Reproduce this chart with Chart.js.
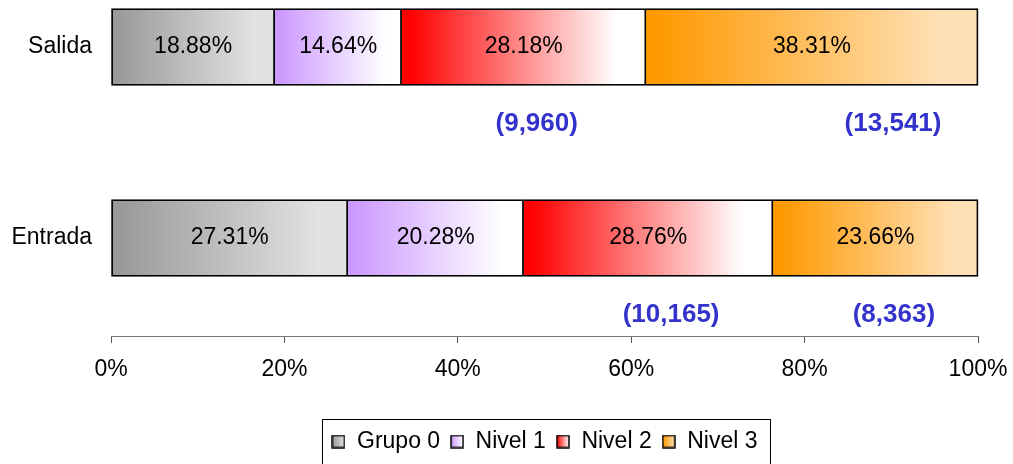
<!DOCTYPE html>
<html>
<head>
<meta charset="utf-8">
<script src="https://cdn.jsdelivr.net/npm/chart.js@4.4.1/dist/chart.umd.min.js"></script>
<style>
  html, body { margin: 0; padding: 0; background: #fff; }
  #wrap { width: 1013px; height: 464px; }
</style>
</head>
<body>
<div id="wrap"><canvas id="chart"></canvas></div>
<script>
// Data
const categories = ['Salida', 'Entrada'];
const seriesNames = ['Grupo 0', 'Nivel 1', 'Nivel 2', 'Nivel 3'];
const grupo0 = [18.88, 27.31];
const nivel1 = [14.64, 20.28];
const nivel2 = [28.18, 28.76];
const nivel3 = [38.31, 23.66];
const xTicks = [0, 20, 40, 60, 80, 100];
// counts written under the Nivel 2 and Nivel 3 segments
const countsNivel2 = ['(9,960)', '(10,165)'];
const countsNivel3 = ['(13,541)', '(8,363)'];

const values = [grupo0, nivel1, nivel2, nivel3];

// Styles / layout
const FONT = '"Liberation Sans", Arial, sans-serif';
const shades = [
  ['#999999', '#e2e2e2'],
  ['#cc99ff', '#ffffff'],
  ['#ff0000', '#ffffff'],
  ['#ff9900', '#ffe0b4']
];
// where the count labels sit along the x axis (in % units)
const countAt = { 2: [49.1, 64.6], 3: [90.2, 90.3] };
const countOffsetY = 77;

function segFill(ds) {
  return function (ctx) {
    const chart = ctx.chart;
    const [dark, light] = shades[ds];
    if (!chart.chartArea || ctx.type !== 'data') return dark;
    const x = chart.scales.x;
    let start = 0;
    for (let k = 0; k < ds; k++) start += values[k][ctx.dataIndex];
    const end = start + values[ds][ctx.dataIndex];
    const x0 = x.getPixelForValue(start);
    const x1 = x.getPixelForValue(end);
    const g = chart.ctx.createLinearGradient(x0, 0, x1, 0);
    g.addColorStop(0, dark);
    g.addColorStop(0.03, dark);
    g.addColorStop(0.88, light);
    g.addColorStop(1, light);
    return g;
  };
}

function legendSwatch(i) {
  const c = document.createElement('canvas');
  c.width = 14;
  c.height = 14;
  const g = c.getContext('2d');
  const gr = g.createLinearGradient(1, 0, 13, 0);
  gr.addColorStop(0, shades[i][0]);
  gr.addColorStop(1, shades[i][1]);
  g.fillStyle = gr;
  g.fillRect(1, 1, 12, 12);
  g.strokeStyle = '#000';
  g.lineWidth = 1.5;
  g.strokeRect(1, 1, 12, 12);
  return c;
}

const datasets = values.map((arr, i) => ({
  label: seriesNames[i],
  data: arr.map((v, j) => ({ x: v, y: j })),
  backgroundColor: segFill(i),
  borderColor: '#000',
  borderWidth: 1.8,
  borderSkipped: i === 0 ? false : 'left',
  barThickness: 77,
  clip: false
}));

// Percent labels inside bars, counts below, legend frame
const barText = {
  id: 'barText',
  afterLayout(chart) {
    const lg = chart.legend;
    const shift = (chart.chartArea.left + chart.chartArea.right) / 2 - (lg.left + lg.right) / 2;
    lg.left += shift;
    lg.right += shift;
  },
  afterDatasetsDraw(chart) {
    const ctx = chart.ctx;
    const x = chart.scales.x;
    ctx.save();
    ctx.textAlign = 'center';
    ctx.textBaseline = 'middle';
    chart.data.datasets.forEach((ds, i) => {
      const meta = chart.getDatasetMeta(i);
      meta.data.forEach((el, j) => {
        ctx.fillStyle = '#000';
        ctx.font = '23px ' + FONT;
        ctx.fillText(values[i][j].toFixed(2) + '%', (el.x + el.base) / 2, el.y);
        const counts = i === 2 ? countsNivel2 : i === 3 ? countsNivel3 : null;
        if (counts) {
          ctx.fillStyle = '#3333cc';
          ctx.font = 'bold 26px ' + FONT;
          ctx.fillText(counts[j], x.getPixelForValue(countAt[i][j]), el.y + countOffsetY);
        }
      });
    });
    ctx.restore();
  },
  afterDraw(chart) {
    const boxes = chart.legend.legendHitBoxes;
    if (!boxes || !boxes.length) return;
    const first = boxes[0];
    const last = boxes[boxes.length - 1];
    const ctx = chart.ctx;
    ctx.save();
    ctx.strokeStyle = '#000';
    ctx.lineWidth = 1;
    const l = Math.round(first.left - 9) + 0.5;
    const r = Math.round(last.left + last.width + 12) + 0.5;
    const t = Math.round(first.top - 11) + 0.5;
    ctx.strokeRect(l, t, r - l, 60);
    ctx.restore();
  }
};

new Chart(document.getElementById('chart'), {
  type: 'bar',
  data: { datasets },
  options: {
    indexAxis: 'y',
    responsive: true,
    maintainAspectRatio: false,
    animation: false,
    layout: { padding: { top: 0, right: 35, bottom: 1, left: 0 } },
    scales: {
      x: {
        type: 'linear',
        stacked: true,
        min: 0,
        max: 100,
        afterBuildTicks: (s) => { s.ticks = xTicks.map(v => ({ value: v })); },
        afterFit: (s) => { s.height = 84; s.paddingLeft = 0; s.paddingRight = 0; },
        grid: { drawOnChartArea: false, drawTicks: true, tickLength: 7, color: '#555' },
        border: { display: true, color: '#777', width: 1 },
        ticks: {
          padding: 13,
          color: '#000',
          font: { family: FONT, size: 23 },
          callback: (v) => v + '%'
        }
      },
      y: {
        type: 'linear',
        stacked: true,
        reverse: true,
        offset: false,
        bounds: 'data',
        min: -0.246,
        max: 1.513,
        afterBuildTicks: (s) => { s.ticks = categories.map((c, i) => ({ value: i })); },
        afterFit: (s) => { s.width = 111; s.paddingTop = 0; s.paddingBottom = 0; },
        grid: { display: false },
        border: { display: false },
        ticks: {
          autoSkip: false,
          padding: 11,
          color: '#000',
          font: { family: FONT, size: 23 },
          callback: (v) => categories[v]
        }
      }
    },
    plugins: {
      legend: {
        position: 'bottom',
        labels: {
          usePointStyle: true,
          boxWidth: 14,
          boxHeight: 14,
          padding: 10,
          color: '#000',
          font: { family: FONT, size: 23 },
          generateLabels: () => seriesNames.map((n, i) => ({
            text: n,
            pointStyle: legendSwatch(i),
            fillStyle: shades[i][0],
            strokeStyle: '#000',
            lineWidth: 1,
            hidden: false,
            datasetIndex: i
          }))
        }
      },
      tooltip: { enabled: false }
    }
  },
  plugins: [barText]
});
</script>
</body>
</html>
